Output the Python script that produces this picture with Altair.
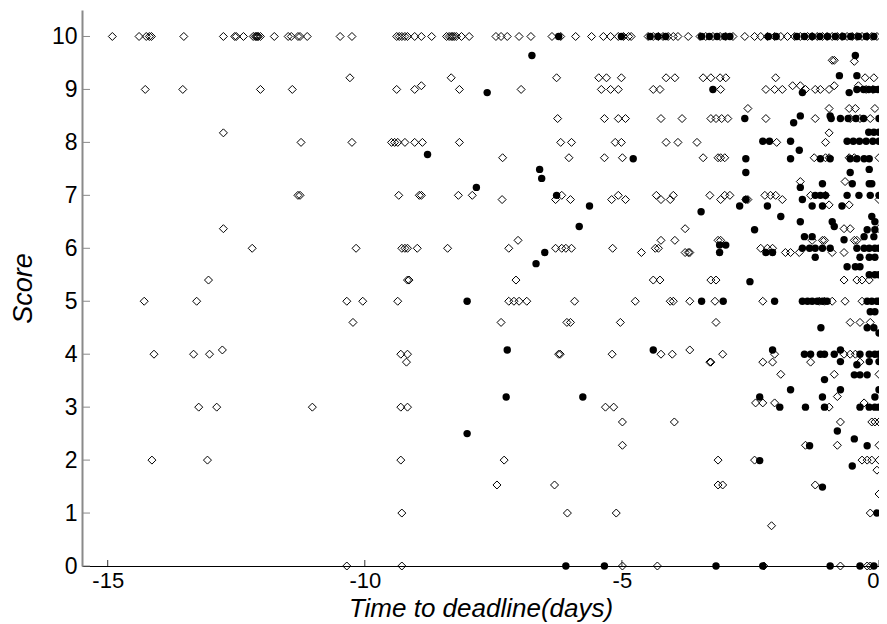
import altair as alt
import pandas as pd

# Tick values
x_ticks = [-15, -10, -5, 0]
y_ticks = [0, 1, 2, 3, 4, 5, 6, 7, 8, 9, 10]

# Open diamonds: (score, [time to deadline ...])
open_rows = [
    (10.0, [-14.91, -14.39, -14.25, -14.19, -14.15, -13.52, -12.75, -12.53, -12.50, -12.36,
            -12.17, -12.13, -12.11, -12.09, -12.07, -12.03, -11.76, -11.49, -11.43, -11.30,
            -11.26, -11.12, -10.48, -10.25, -9.38, -9.33, -9.28, -9.22, -9.17, -9.03, -8.90,
            -8.70, -8.41, -8.36, -8.32, -8.29, -8.26, -8.22, -8.12, -7.97, -7.45, -7.35, -7.23,
            -7.00, -6.77, -6.36, -6.19, -5.90, -5.59, -5.36, -5.22, -5.07, -4.97, -4.87, -4.82,
            -4.49, -4.39, -4.29, -4.20, -4.10, -4.00, -3.91, -3.71, -3.48, -3.37, -3.23, -3.09,
            -2.98, -2.84, -2.61, -2.42, -2.30, -2.17, -2.03, -1.91, -1.78, -1.64, -1.53, -1.39,
            -1.30, -1.20, -1.10, -1.01, -0.91, -0.81, -0.72, -0.62, -0.52, -0.43, -0.33, -0.23,
            -0.14, -0.04]),
    (9.55, [-0.91, -0.87]),
    (9.53, [-0.48]),
    (9.22, [-10.29, -8.32, -6.27, -5.45, -5.30, -5.01, -4.14, -3.97, -3.42, -3.27, -3.09,
            -2.98, -2.01, -0.27, -0.10]),
    (9.07, [-8.90, -1.68, -1.53, -0.87, -0.40]),
    (9.0, [-14.27, -13.54, -12.03, -11.41, -9.38, -9.03, -8.16, -6.96, -5.40, -5.22, -5.07,
           -4.39, -4.26, -3.08, -2.20, -2.03, -1.88, -1.43, -1.24, -1.14, -0.97, -0.25, -0.12]),
    (8.64, [-2.55, -0.97, -0.58, -0.46, -0.08]),
    (8.45, [-6.25, -5.34, -5.07, -4.93, -4.24, -3.83, -3.27, -3.17, -3.06, -2.94, -2.20,
            -1.24, -0.56, -0.37, -0.17]),
    (8.18, [-12.75, -0.97]),
    (8.0, [-11.24, -10.25, -9.48, -9.42, -9.36, -9.22, -9.03, -8.88, -8.16, -6.19, -5.98,
           -5.13, -5.01, -4.14, -3.91, -3.54, -1.99, -1.04]),
    (7.71, [-7.32, -6.03, -5.34, -4.99, -3.42, -3.13, -3.08, -3.00, -1.26, -1.04, -0.97,
            -0.58, -0.48, 0.0]),
    (7.26, [-1.53, -0.66]),
    (7.0, [-11.30, -11.26, -9.34, -8.94, -8.90, -8.18, -7.91, -6.17, -5.07, -4.33, -4.00,
           -3.29, -3.00, -2.90, -2.22, -2.11, -2.01, -1.33, -1.04]),
    (6.92, [-7.33, -6.29, -6.00, -5.20, -4.93, -4.24, -4.06, -3.08, -2.59, -2.55, -1.88, 0.0]),
    (6.82, [-0.97, -0.58]),
    (6.37, [-12.75, -3.77, -0.68, -0.56, 0.0]),
    (6.15, [-7.02, -4.24, -3.97, -3.13, -3.08, -1.30, -1.10, -1.06, -0.48, -0.43]),
    (6.0, [-12.19, -10.17, -9.28, -9.22, -9.17, -8.98, -8.39, -7.20, -6.29, -6.17, -6.09,
           -5.98, -5.18, -4.35, -4.29, -2.30, -2.17, -2.07]),
    (5.92, [-4.62, -3.77, -3.71, -3.68, -1.82, -1.72, -1.55, -0.91, -0.68]),
    (5.4, [-13.04, -9.17, -9.14, -7.06, -4.39, -4.26, -3.27, -3.17, -0.68, -0.43, -0.33, -0.19]),
    (5.0, [-14.29, -13.27, -10.35, -10.04, -9.36, -7.20, -7.10, -7.00, -6.85, -5.92, -4.74,
           -4.06, -4.00, -3.68, -3.19, -2.26, -1.16, -1.06, -0.91, -0.66, -0.33]),
    (4.6, [-10.23, -7.35, -6.07, -6.00, -5.03, -3.17, -0.56, -0.37, -0.17]),
    (4.08, [-12.77, -3.68]),
    (4.0, [-14.10, -13.33, -13.02, -9.30, -9.17, -6.23, -6.20, -5.19, -4.24, -4.02, -3.04,
           -2.03, -0.68, -0.56, -0.46]),
    (3.85, [-9.19, -3.29, -3.27, -2.26, -2.07, -1.33, -0.37]),
    (3.62, [-1.91, -0.87, 0.0]),
    (3.2, [-0.81]),
    (3.08, [-2.40, -2.26, -2.03, -0.29]),
    (3.0, [-13.23, -12.88, -11.02, -9.30, -9.17, -5.32, -5.16, -0.97]),
    (2.72, [-4.99, -3.98, -0.75, -0.14, -0.08, 0.0]),
    (2.28, [-4.99, -1.43, -0.81, 0.0]),
    (2.0, [-14.14, -13.06, -9.30, -7.29, -3.13, -2.42, -0.33, -0.23, -0.14, 0.0]),
    (1.81, [-0.04]),
    (1.53, [-7.43, -6.31, -3.13, -3.04, -1.24]),
    (1.36, [0.0]),
    (1.0, [-9.28, -6.06, -5.11, -0.17]),
    (0.76, [-2.09]),
    (0.0, [-10.35, -9.28, -4.99, -4.31, -2.24, -0.75, -0.23, -0.17]),
]

# Filled circles: (score, [time to deadline ...])
filled_rows = [
    (10.0, [-6.23, -5.01, -4.45, -4.30, -4.15, -3.45, -3.30, -3.15, -3.00, -2.90, -2.15,
            -2.00, -1.60, -1.45, -1.30, -1.15, -1.00, -0.85, -0.70, -0.55, -0.40, -0.25, -0.10]),
    (9.64, [-6.75, -0.46]),
    (9.26, [-0.77, -0.43]),
    (9.0, [-3.23, -0.43, -0.30, -0.20, -0.10, -0.02]),
    (8.94, [-7.62, -1.49, -0.58]),
    (8.5, [-1.53, -0.95]),
    (8.45, [-2.61, -0.93, -0.75, -0.60, -0.45, -0.30, 0.0]),
    (8.37, [-1.66]),
    (8.19, [-0.20, -0.10, 0.0]),
    (8.02, [-2.26, -2.13, -1.72, -0.62, -0.50, -0.38, -0.25, -0.12, 0.0]),
    (7.85, [-1.55]),
    (7.77, [-8.78]),
    (7.69, [-4.78, -2.59, -1.72, -1.14, -0.95, -0.56, -0.43, -0.29, -0.19]),
    (7.49, [-6.60, -0.19]),
    (7.43, [-2.59, -0.56]),
    (7.32, [-6.56]),
    (7.22, [-1.10, -0.52, -0.19, -0.14]),
    (7.15, [-7.83, -1.53]),
    (7.0, [-6.27, -1.24, -1.14, -1.04, -0.62, -0.39, -0.17, 0.0]),
    (6.92, [-2.59, -1.49]),
    (6.8, [-5.63, -2.71, -2.17, -1.30, -1.10, -0.72]),
    (6.69, [-3.46]),
    (6.6, [-1.91, -0.14]),
    (6.5, [-1.53, -0.91, -0.08]),
    (6.41, [-5.83, -0.87]),
    (6.35, [-2.42, -0.23, -0.08]),
    (6.22, [-1.45, -1.30, -0.29, -0.10]),
    (6.16, [-0.68]),
    (6.06, [-3.10, -2.98]),
    (6.0, [-1.49, -1.35, -1.24, -1.10, -0.95, -0.43, -0.29, -0.19, -0.08, 0.0]),
    (5.92, [-6.50, -3.10, -2.20, -2.07]),
    (5.83, [-1.24, -0.37, -0.19, -0.08]),
    (5.71, [-6.67]),
    (5.65, [-0.62, -0.46, -0.37]),
    (5.5, [-0.19, -0.08, 0.0]),
    (5.37, [-2.51]),
    (5.0, [-8.01, -3.45, -3.03, -2.03, -1.49, -1.39, -1.30, -1.20, -1.10, -1.01, -0.23,
           -0.14, -0.04, 0.0]),
    (4.8, [-0.17, -0.08]),
    (4.5, [-1.13, -0.23, -0.10]),
    (4.4, [0.0]),
    (4.08, [-7.23, -4.39, -2.07, -0.75]),
    (4.0, [-1.45, -1.33, -1.14, -1.06, -0.87, -0.37, -0.19, -0.08, 0.0]),
    (3.86, [-0.75, -0.19, 0.0]),
    (3.8, [-0.43]),
    (3.61, [-0.48, -0.37, -0.23]),
    (3.52, [-1.06]),
    (3.33, [-1.72, -0.75, 0.0]),
    (3.19, [-7.25, -5.76, -2.32, -1.10, -0.08]),
    (3.0, [-1.93, -1.43, -1.06, -0.37, -0.19, -0.08, 0.0]),
    (2.55, [-0.81]),
    (2.5, [-8.01]),
    (2.4, [-0.48]),
    (2.27, [-1.35, -0.23]),
    (1.99, [-2.32]),
    (1.89, [-0.52]),
    (1.49, [-1.10]),
    (1.0, [-0.04]),
    (0.0, [-6.09, -5.34, -3.17, -2.26, -0.95, -0.37, -0.10]),
]


def rows_to_df(rows):
    recs = []
    for score, xs in rows:
        for t in xs:
            recs.append({"t": t, "score": score})
    return pd.DataFrame(recs)


df_open = rows_to_df(open_rows)
df_filled = rows_to_df(filled_rows)

W, H = 797, 556
FONT = "Liberation Sans"

x_scale = alt.Scale(domain=[-15.5, 0], nice=False, zero=False)
y_scale = alt.Scale(domain=[0, 10.5], nice=False, zero=False)

x_axis = alt.Axis(
    values=x_ticks, grid=False, ticks=False, domainColor="black", domainWidth=1.2,
    labelFont=FONT, labelFontSize=22, labelColor="black", labelPadding=4,
    labelExpr="'' + datum.value", labelOverlap=False, labelFlush=True,
    title="Time to deadline(days)", titleFont=FONT, titleFontSize=26,
    titleFontStyle="italic", titleFontWeight="normal", titleColor="black",
    titleBaseline="alphabetic", titleY=50,
)
y_axis = alt.Axis(
    values=y_ticks, grid=False, ticks=False, domainColor="#8a8a8a", domainWidth=2,
    labelFont=FONT, labelFontSize=23, labelColor="black", labelPadding=5,
    labelExpr="'' + datum.value", labelOverlap=False, labelFlush=False,
    title="Score", titleFont=FONT, titleFontSize=27,
    titleFontStyle="italic", titleFontWeight="normal", titleColor="black", titlePadding=14,
)

open_layer = alt.Chart(df_open).mark_point(
    shape="diamond", filled=False, stroke="black", strokeWidth=1, size=64, opacity=1
).encode(
    x=alt.X("t:Q", scale=x_scale, axis=x_axis),
    y=alt.Y("score:Q", scale=y_scale, axis=y_axis),
)

filled_layer = alt.Chart(df_filled).mark_point(
    shape="circle", filled=True, color="black", size=55, opacity=1
).encode(
    x=alt.X("t:Q", scale=x_scale, axis=x_axis),
    y=alt.Y("score:Q", scale=y_scale, axis=y_axis),
)

ytick_layer = alt.Chart(pd.DataFrame({"score": y_ticks})).mark_rule(
    color="#8a8a8a", strokeWidth=1
).encode(
    y=alt.Y("score:Q", scale=y_scale, axis=y_axis),
    x=alt.value(0), x2=alt.value(8),
)

xtick_layer = alt.Chart(pd.DataFrame({"t": x_ticks})).mark_rule(
    color="#333333", strokeWidth=1
).encode(
    x=alt.X("t:Q", scale=x_scale, axis=x_axis),
    y=alt.value(H), y2=alt.value(H - 6),
)

chart = alt.layer(open_layer, filled_layer, ytick_layer, xtick_layer).properties(
    width=W, height=H,
    autosize=alt.AutoSizeParams(type="none"),
    padding={"left": 74, "top": 2, "right": 0, "bottom": 57},
    background="white",
).configure_view(stroke=None)

chart.save("out.html", embed_options={"renderer": "svg", "actions": False})
